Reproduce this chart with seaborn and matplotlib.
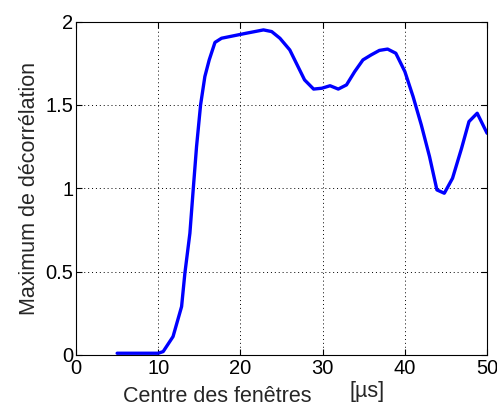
import numpy as np
import pandas as pd
import matplotlib
matplotlib.use("Agg")
import matplotlib.pyplot as plt
import seaborn as sns

# window centres (us) and decorrelation maximum
centres = [5, 6, 7, 8, 9, 10, 10.6, 11.8, 12.84, 13.24, 13.85, 14.25, 14.66, 15.15, 15.67,
           16.2, 16.9, 17.7, 19.7, 20.7, 22.8, 23.8, 24.8, 26.0, 26.8, 27.8, 28.9, 29.9,
           30.9, 31.9, 32.9, 33.9, 34.9, 35.9, 36.9, 37.9, 38.9, 40.0, 41.0, 42.0, 43.0,
           43.9, 44.8, 45.8, 46.9, 47.8, 48.8, 50.0]
decorr = [0.01, 0.01, 0.01, 0.01, 0.01, 0.01, 0.02, 0.11, 0.29, 0.49, 0.73, 0.99, 1.25, 1.50,
          1.67, 1.77, 1.875, 1.90, 1.92, 1.93, 1.95, 1.94, 1.90, 1.83, 1.75, 1.65, 1.595, 1.60,
          1.615, 1.595, 1.62, 1.70, 1.77, 1.80, 1.827, 1.835, 1.81, 1.70, 1.55, 1.38, 1.19,
          0.99, 0.97, 1.06, 1.24, 1.40, 1.45, 1.33]

xticks = [0, 10, 20, 30, 40, 50]
yticks = [0, 0.5, 1, 1.5, 2]

df = pd.DataFrame({"centre": centres, "decorr": decorr})

sns.set_style("white")
plt.rcParams["font.family"] = ["Liberation Sans", "DejaVu Sans"]

fig = plt.figure(figsize=(4.97, 4.07), dpi=100)
ax = fig.add_axes([0.153, 0.128, 0.827, 0.819])

sns.lineplot(data=df, x="centre", y="decorr", color="#0000ff", linewidth=2.4, ax=ax)

ax.set_xlim(0, 50)
ax.set_ylim(0, 2)
ax.set_xticks(xticks)
ax.set_yticks(yticks)
ax.set_yticklabels(["0", "0.5", "1", "1.5", "2"])
ax.grid(True, color="black", linestyle=(0, (1, 3)), linewidth=0.7)
for s in ax.spines.values():
    s.set_color("black")
    s.set_linewidth(0.8)
ax.tick_params(direction="in", length=4, width=0.8, colors="black", labelsize=14.5,
               top=True, right=True, bottom=True, left=True)
ax.tick_params(axis="x", pad=3)
ax.tick_params(axis="y", pad=2)
ax.set_xlabel("")
ax.set_ylabel("Maximum de décorrélation", fontsize=15.5, labelpad=4)

# x label sits low, right at the figure's bottom edge
fig.text(0.437, 0.027, "Centre des fenêtres", fontsize=15.5, ha="center", va="center")
fig.text(0.738, 0.037, "[µs]", fontsize=15.5, ha="center", va="center")

fig.savefig("out.png", dpi=100)
